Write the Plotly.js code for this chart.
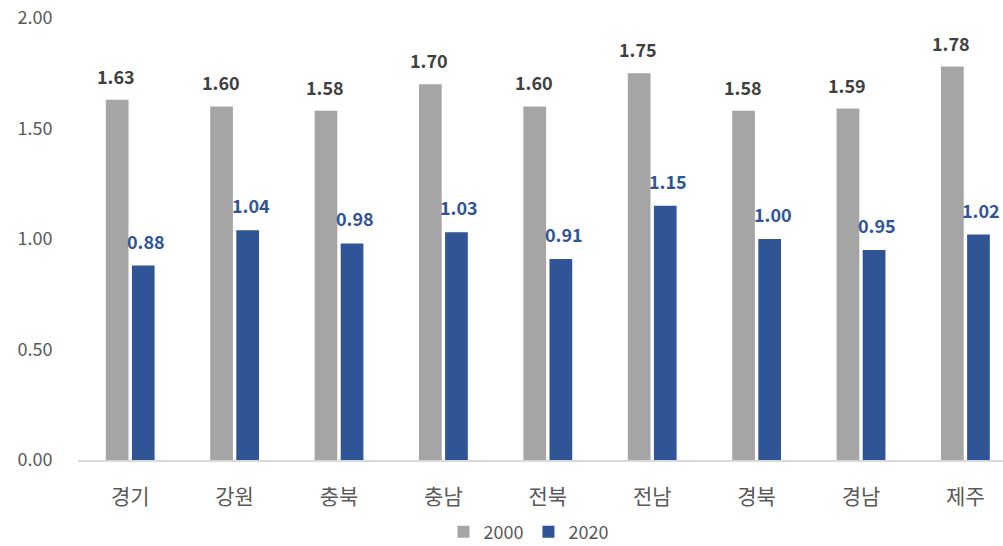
<!DOCTYPE html>
<html><head><meta charset="utf-8">
<script src="https://cdn.plot.ly/plotly-3.0.1.min.js"></script>
<style>body{margin:0;background:#fff}#chart{width:1003px;height:546px}</style>
</head><body><div id="chart"></div>
<script>
const categories = ['경기','강원','충북','충남','전북','전남','경북','경남','제주'];
const values2000 = [1.63,1.60,1.58,1.70,1.60,1.75,1.58,1.59,1.78];
const values2020 = [0.88,1.04,0.98,1.03,0.91,1.15,1.00,0.95,1.02];
const yTicks = [0,0.5,1.0,1.5,2.0];
const yTickText = ['0.00','0.50','1.00','1.50','2.00'];
const FONT = '"Noto Sans CJK KR", "Malgun Gothic", sans-serif';
const GREY = '#A5A5A5', BLUE = '#2F5597';

const traces = [
  {type:'bar', name:'2000', x:categories, y:values2000, marker:{color:GREY}, hoverinfo:'none'},
  {type:'bar', name:'2020', x:categories, y:values2020, marker:{color:BLUE}, hoverinfo:'none'}
];
const annotations = [];
categories.forEach((c,i)=>{
  annotations.push({x:c, y:values2000[i], xref:'x', yref:'y', text:values2000[i].toFixed(2), showarrow:false,
    xshift:-14, yshift:9, yanchor:'bottom', font:{family:FONT, size:18, color:'#404040', weight:'bold'}});
  annotations.push({x:c, y:values2020[i], xref:'x', yref:'y', text:values2020[i].toFixed(2), showarrow:false,
    xshift:16, yshift:10, yanchor:'bottom', font:{family:FONT, size:18, color:BLUE, weight:'bold'}});
});
const layout = {
  width:1003, height:546,
  margin:{l:78, r:0, t:18, b:86, autoexpand:false},
  paper_bgcolor:'#fff', plot_bgcolor:'#fff',
  font:{family:FONT, color:'#595959'},
  barmode:'group', bargap:0.5, bargroupgap:0.13,
  xaxis:{type:'category', range:[-0.5,8.36], showline:true, linecolor:'#D9D9D9', linewidth:1.5,
    ticks:'outside', ticklen:17, tickcolor:'rgba(0,0,0,0)', tickfont:{family:FONT, size:21, color:'#595959'},
    showgrid:false, zeroline:false, fixedrange:true, automargin:false},
  yaxis:{range:[0,2], tickvals:yTicks, ticktext:yTickText, showgrid:false, zeroline:false, showline:false,
    ticks:'outside', ticklen:21, tickcolor:'rgba(0,0,0,0)', tickfont:{family:FONT, size:18, color:'#595959'},
    fixedrange:true, automargin:false},
  showlegend:true,
  legend:{orientation:'h', x:0.487, xanchor:'center', y:-0.163, yanchor:'middle',
    font:{family:FONT, size:18, color:'#595959'}, itemwidth:30},
  annotations:annotations
};
Plotly.newPlot('chart', traces, layout, {displayModeBar:false, staticPlot:true});
</script></body></html>
